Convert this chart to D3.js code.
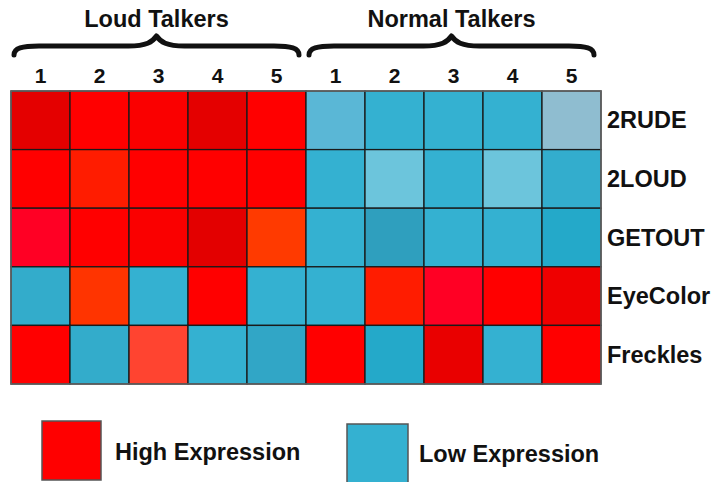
<!DOCTYPE html>
<html>
<head>
<meta charset="utf-8">
<script src="https://cdn.jsdelivr.net/npm/d3@7"></script>
<style>
  body { margin: 0; background: #fff; }
  text { font-family: "Liberation Sans", Arial, sans-serif; font-weight: bold; fill: #111; }
</style>
</head>
<body>
<div id="heatmap"></div>
<script>
// groups and samples along the top
var groups = ["Loud Talkers", "Normal Talkers"];
var samples = ["1", "2", "3", "4", "5"];

// genes down the right side
var genes = ["2RUDE", "2LOUD", "GETOUT", "EyeColor", "Freckles"];

// expression values, one row per gene (loud 1-5, normal 1-5)
var expr2RUDE    = [0.9, 0.8, 0.82, 0.9, 0.8, -0.7, -0.8, -0.8, -0.8, -0.5];
var expr2LOUD    = [0.8, 0.7, 0.8, 0.8, 0.8, -0.8, -0.6, -0.8, -0.6, -0.82];
var exprGETOUT   = [0.4, 0.8, 0.82, 0.92, 0.6, -0.8, -0.9, -0.8, -0.8, -1];
var exprEyeColor = [-0.83, 0.62, -0.8, 0.8, -0.8, -0.8, 0.7, 0.4, 0.8, 0.86];
var exprFreckles = [0.8, -0.83, 0.5, -0.8, -0.86, 0.8, -1, 0.88, -0.8, 0.8];

var legendLabels = ["High Expression", "Low Expression"];
var legendValues = [0.8, -0.8];

var width = 727, height = 482;
var margin = {top: 91, left: 11};
var gridW = 590, gridH = 293;

var svg = d3.select("#heatmap")
    .append("svg")
    .attr("width", width)
    .attr("height", height);

// columns: group + sample
var columns = [];
groups.forEach(function(g) {
    samples.forEach(function(s) { columns.push(g + "|" + s); });
});

var xScale = d3.scaleBand()
    .domain(columns)
    .range([margin.left, margin.left + gridW]);

var yScale = d3.scaleBand()
    .domain(genes)
    .range([margin.top, margin.top + gridH]);

// piecewise colour scale, blue for low and red for high
var color = d3.scaleLinear()
    .domain([-1, -0.9, -0.8, -0.7, -0.6, -0.5, 0.4, 0.5, 0.6, 0.7, 0.8, 0.9, 1])
    .range(["#24a9c9", "#2f9fbe", "#34b1d1", "#5ab7d6", "#6cc5dc", "#8fbdd0",
            "#ff0024", "#ff4430", "#ff3a00", "#ff1c00", "#ff0000", "#e40000", "#e00000"]);

var rows = [expr2RUDE, expr2LOUD, exprGETOUT, exprEyeColor, exprFreckles];
var cells = [];
rows.forEach(function(vals, i) {
    vals.forEach(function(v, j) {
        cells.push({gene: genes[i], col: columns[j], value: v});
    });
});

// cells
svg.append("g")
    .selectAll("rect")
    .data(cells)
    .join("rect")
    .attr("x", function(d) { return xScale(d.col); })
    .attr("y", function(d) { return yScale(d.gene); })
    .attr("width", xScale.bandwidth())
    .attr("height", yScale.bandwidth())
    .attr("fill", function(d) { return color(d.value); })
    .attr("stroke", "#1a1a1a")
    .attr("stroke-width", 1.3);

// outer border
svg.append("rect")
    .attr("x", margin.left)
    .attr("y", margin.top)
    .attr("width", gridW)
    .attr("height", gridH)
    .attr("fill", "none")
    .attr("stroke", "#666")
    .attr("stroke-width", 1.5);

// sample numbers
svg.append("g")
    .selectAll("text")
    .data(columns)
    .join("text")
    .attr("x", function(d) { return xScale(d) + xScale.bandwidth() / 2; })
    .attr("y", 83)
    .attr("text-anchor", "middle")
    .style("font-size", "21px")
    .text(function(d) { return d.split("|")[1]; });

// gene labels
svg.append("g")
    .selectAll("text")
    .data(genes)
    .join("text")
    .attr("x", margin.left + gridW + 6)
    .attr("y", function(d) { return yScale(d) + yScale.bandwidth() / 2 + 8; })
    .style("font-size", "23.5px")
    .text(function(d) { return d; });

// braces and group titles
groups.forEach(function(g) {
    var x0 = xScale(g + "|" + samples[0]) + 3;
    var x1 = xScale(g + "|" + samples[samples.length - 1]) + xScale.bandwidth() - 7;
    var mid = (x0 + x1) / 2;

    var p = d3.path();
    p.moveTo(x0, 55);
    p.bezierCurveTo(x0, 48, x0 + 8, 46, x0 + 25, 46);
    p.lineTo(mid - 28, 46);
    p.bezierCurveTo(mid - 10, 46, mid - 4, 42, mid, 36);
    p.bezierCurveTo(mid + 4, 42, mid + 10, 46, mid + 28, 46);
    p.lineTo(x1 - 25, 46);
    p.bezierCurveTo(x1 - 8, 46, x1, 48, x1, 55);

    svg.append("path")
        .attr("d", p.toString())
        .attr("fill", "none")
        .attr("stroke", "#111")
        .attr("stroke-width", 5)
        .attr("stroke-linecap", "round")
        .attr("stroke-linejoin", "round");

    svg.append("text")
        .attr("x", mid)
        .attr("y", 27)
        .attr("text-anchor", "middle")
        .style("font-size", "23.5px")
        .text(g);
});

// legend
var legendX = [42, 347];
var legendY = [421, 424];
var legend = svg.append("g")
    .selectAll("g")
    .data(legendLabels)
    .join("g");

legend.append("rect")
    .attr("x", function(d, i) { return legendX[i]; })
    .attr("y", function(d, i) { return legendY[i]; })
    .attr("width", function(d, i) { return i === 0 ? 59 : 61; })
    .attr("height", 59)
    .attr("fill", function(d, i) { return color(legendValues[i]); })
    .attr("stroke", "#555")
    .attr("stroke-width", 1.5);

legend.append("text")
    .attr("x", function(d, i) { return legendX[i] + (i === 0 ? 73 : 72); })
    .attr("y", function(d, i) { return i === 0 ? 460 : 462; })
    .style("font-size", "23.5px")
    .text(function(d) { return d; });
</script>
</body>
</html>
